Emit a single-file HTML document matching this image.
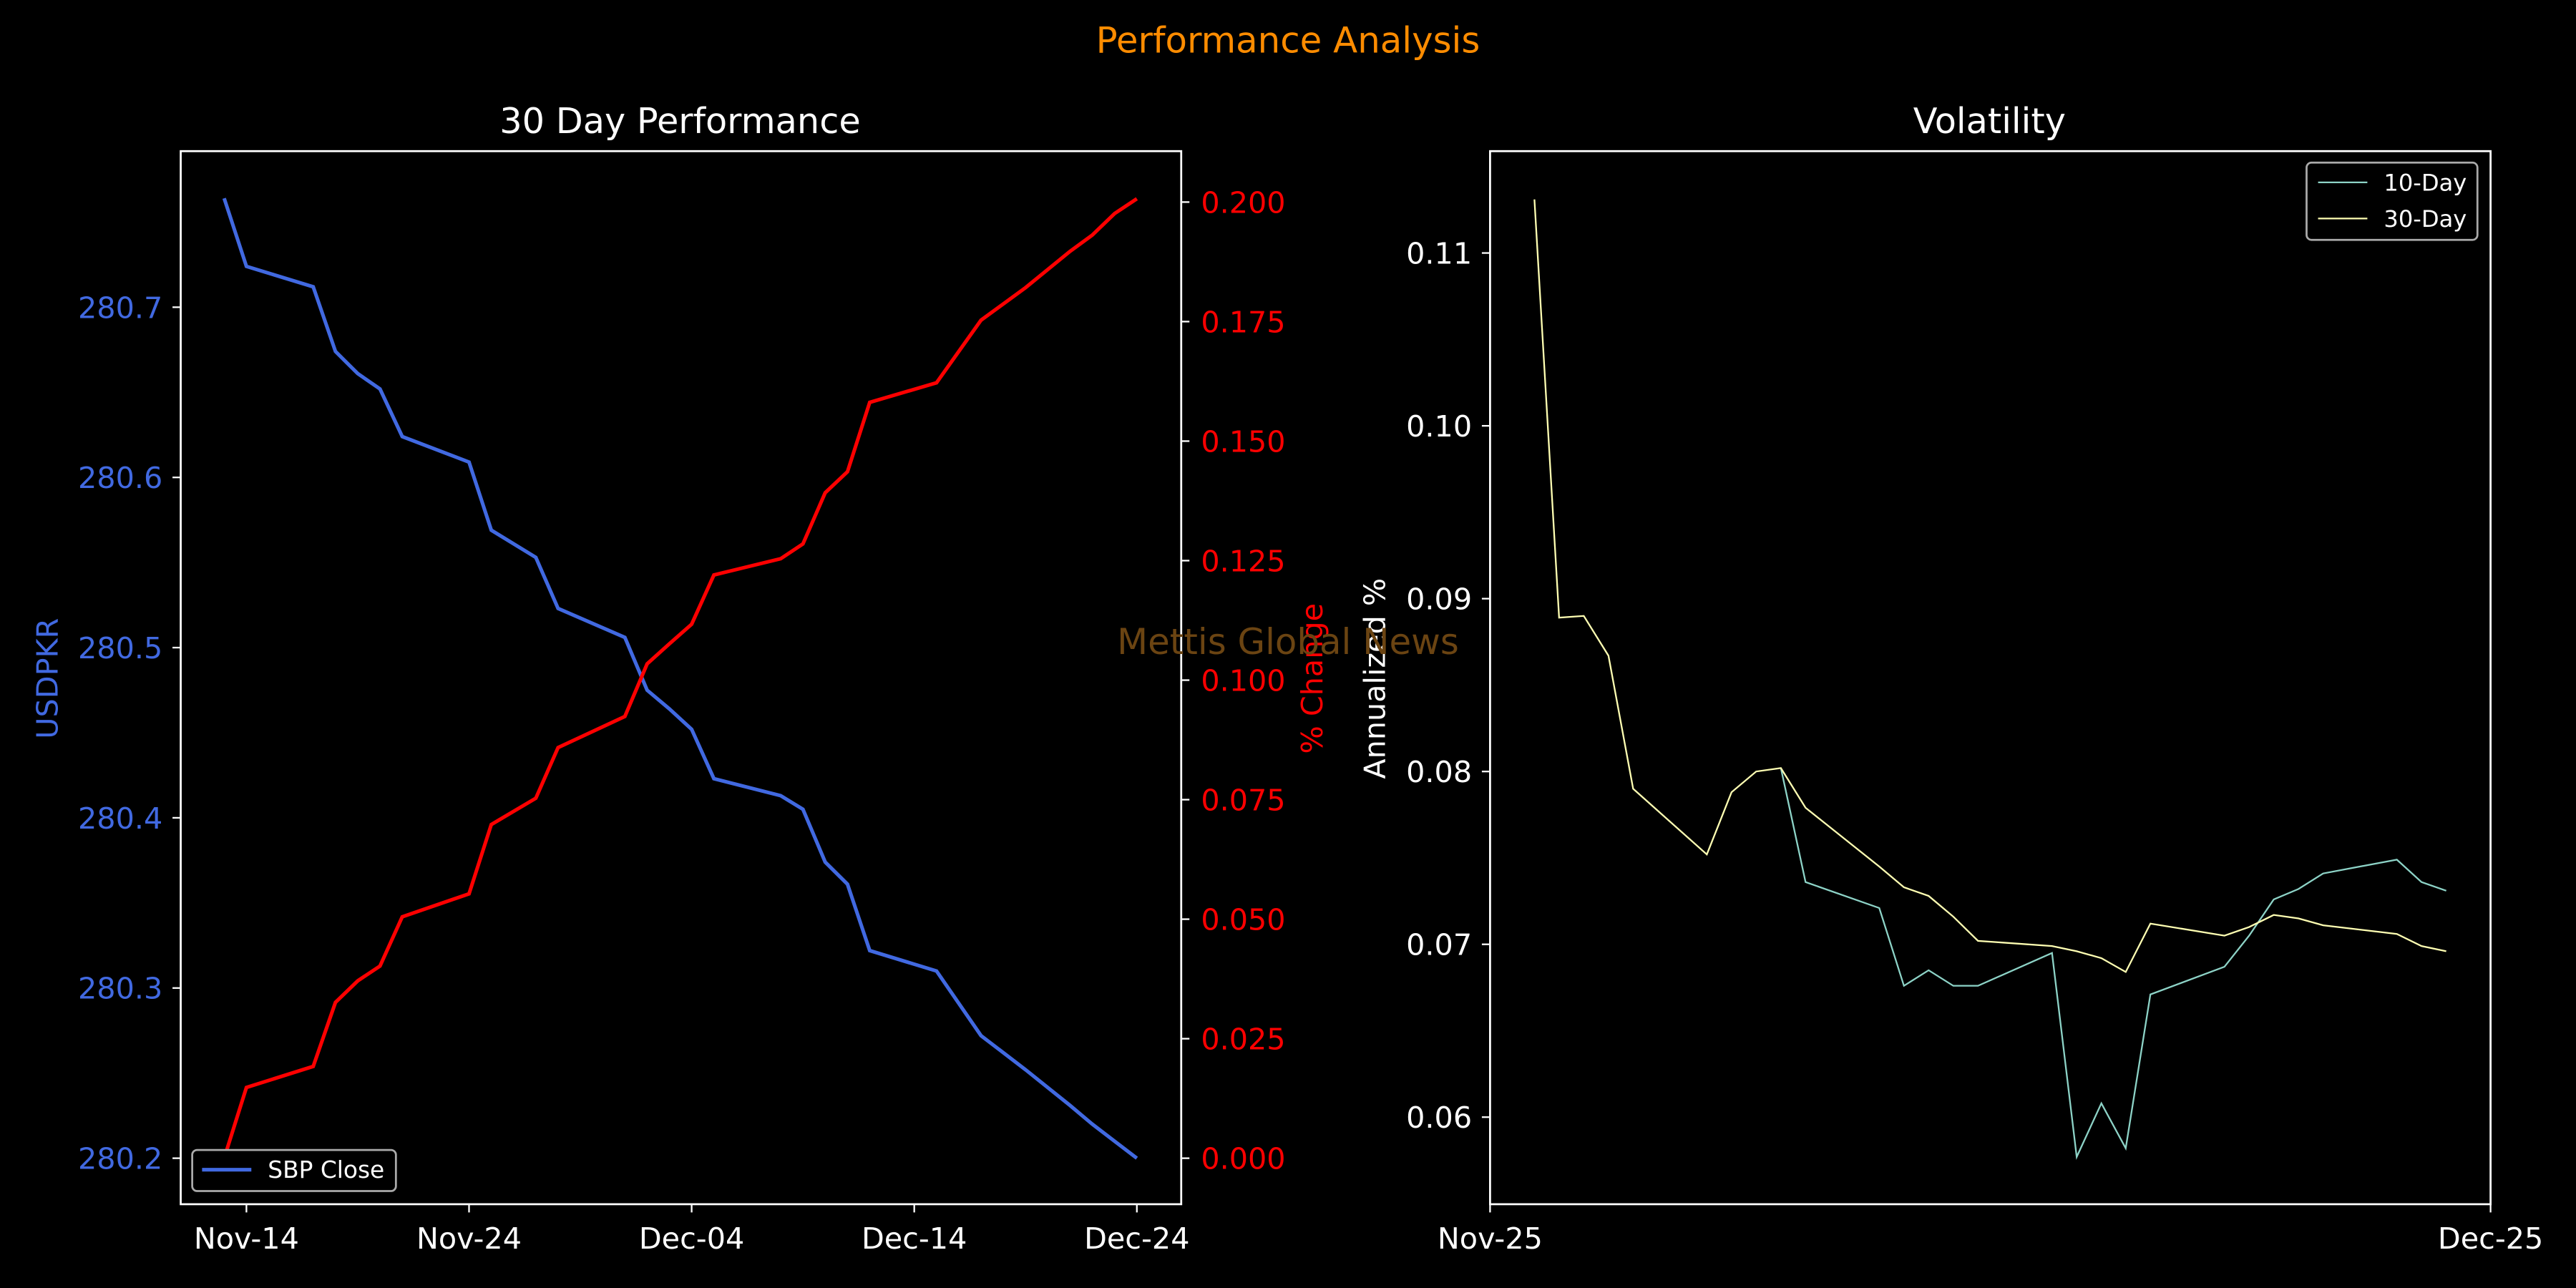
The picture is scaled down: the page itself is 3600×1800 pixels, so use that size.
<!DOCTYPE html>
<html><head><meta charset="utf-8"><style>
html,body{margin:0;padding:0;background:#000;}
svg{display:block;font-family:"DejaVu Sans","Liberation Sans",sans-serif;}
</style></head><body>
<svg id="chart" width="3600" height="1800" viewBox="0 0 1568 784" xmlns="http://www.w3.org/2000/svg">
<rect width="1568" height="784" fill="#000"/>
<text x="784" y="32" fill="#ff8c00" font-size="21.7" text-anchor="middle">Performance Analysis</text>
<text x="414" y="81" fill="#fff" font-size="21.5" text-anchor="middle">30 Day Performance</text>
<text x="1211" y="81" fill="#fff" font-size="21.5" text-anchor="middle">Volatility</text>
<g id="left"></g>
<g id="right"></g>
<text x="784" y="398" fill="#6b4412" font-size="21.7" text-anchor="middle">Mettis Global News</text>
</svg>
<script>
// ---- left chart data (day offset from Nov-14) ----
const closeDays = [-1,0,3,4,5,6,7,10,11,13,14,17,18,19,20,21,24,25,26,27,28,31,33,35,37,38,39,40];
const closeValues = [280.764,280.724,280.712,280.674,280.661,280.652,280.624,280.609,280.569,280.553,280.523,280.506,280.475,280.464,280.452,280.423,280.413,280.405,280.374,280.361,280.322,280.310,280.272,280.252,280.231,280.220,280.210,280.200];
const pctValues = [0,0.0148,0.0192,0.0326,0.0371,0.0402,0.0505,0.0553,0.0698,0.0753,0.0859,0.0924,0.1034,0.1076,0.1117,0.1220,0.1254,0.1285,0.1392,0.1436,0.1581,0.1622,0.1753,0.1821,0.1897,0.1931,0.1976,0.2007];
const leftXTickDays = [0,10,20,30,40];
const leftXTickLabels = ["Nov-14","Nov-24","Dec-04","Dec-14","Dec-24"];
const leftYTicks = [280.2,280.3,280.4,280.5,280.6,280.7];
const rightYTicks = [0,0.025,0.05,0.075,0.1,0.125,0.15,0.175,0.2];
// ---- right chart data (days from Nov-25) ----
const vol30Days = [1.33,2.07,2.81,3.55,4.29,6.5,7.24,7.98,8.72,9.46,11.67,12.41,13.15,13.89,14.63,16.85,17.59,18.33,19.06,19.8,22.02,22.76,23.5,24.24,24.98,27.19,27.93,28.67];
const vol30Values = [0.1131,0.0889,0.0890,0.0867,0.0790,0.0752,0.0788,0.0800,0.0802,0.0779,0.0745,0.0733,0.0728,0.0716,0.0702,0.0699,0.0696,0.0692,0.0684,0.0712,0.0705,0.0710,0.0717,0.0715,0.0711,0.0706,0.0699,0.0696];
const vol10Days = [8.72,9.46,11.67,12.41,13.15,13.89,14.63,16.85,17.59,18.33,19.06,19.8,22.02,22.76,23.5,24.24,24.98,27.19,27.93,28.67];
const vol10Values = [0.0802,0.0736,0.0721,0.0676,0.0685,0.0676,0.0676,0.0695,0.0577,0.0608,0.0582,0.0671,0.0687,0.0705,0.0726,0.0732,0.0741,0.0749,0.0736,0.0731];
const volYTicks = [0.06,0.07,0.08,0.09,0.10,0.11];
const volXTickDays = [0,30];
const volXTickLabels = ["Nov-25","Dec-25"];

const NS="http://www.w3.org/2000/svg";
function mk(parent,tag,attrs,text){const e=document.createElementNS(NS,tag);for(const k in attrs)e.setAttribute(k,attrs[k]);if(text!==undefined)e.textContent=text;parent.appendChild(e);return e;}
const TF=18;

const L=document.getElementById('left');
const lx=d=>150+(d)*13.55;
const ly=v=>705-(v-280.2)*1036;
const ry=v=>705-v*2910;
let e;
leftYTicks.forEach(v=>{
  e=mk(L,'line',{x1:105,x2:110,y1:ly(v),y2:ly(v),stroke:'#fff','stroke-width':1});
  
  e=mk(L,'text',{x:99,y:ly(v)+6.5,fill:'#4169e1','font-size':TF,'text-anchor':'end'},v.toFixed(1));
  
});
rightYTicks.forEach(v=>{
  e=mk(L,'line',{x1:719,x2:724,y1:ry(v),y2:ry(v),stroke:'#fff','stroke-width':1});
  
  e=mk(L,'text',{x:731,y:ry(v)+6.5,fill:'#ff0000','font-size':TF},v.toFixed(3));
  
});
leftXTickDays.forEach((d,i)=>{
  e=mk(L,'line',{x1:lx(d),x2:lx(d),y1:733,y2:738,stroke:'#fff','stroke-width':1});
  
  e=mk(L,'text',{x:lx(d),y:760,fill:'#fff','font-size':TF,'text-anchor':'middle'},leftXTickLabels[i]);
  
});
e=mk(L,'text',{x:0,y:0,fill:'#4169e1','font-size':TF,'text-anchor':'middle',transform:'translate(35,413) rotate(-90)'},'USDPKR');

e=mk(L,'text',{x:0,y:0,fill:'#ff0000','font-size':TF,'text-anchor':'middle',transform:'translate(805,413) rotate(-90)'},'% Change');

e=mk(L,'polyline',{points:closeDays.map((d,i)=>lx(d)+','+ly(closeValues[i])).join(' '),fill:'none',stroke:'#4169e1','stroke-width':2.2});

e=mk(L,'polyline',{points:closeDays.map((d,i)=>lx(d)+','+ry(pctValues[i])).join(' '),fill:'none',stroke:'#ff0000','stroke-width':2.2});

e=mk(L,'rect',{x:110,y:92,width:609,height:641,fill:'none',stroke:'#fff','stroke-width':1.2});

e=mk(L,'rect',{x:117,y:700,width:124,height:25,rx:3,fill:'#000',stroke:'#aaa','stroke-width':1.2});

e=mk(L,'line',{x1:123,x2:153,y1:712,y2:712,stroke:'#4169e1','stroke-width':2.2});

e=mk(L,'text',{x:163,y:717,fill:'#fff','font-size':14.3},'SBP Close');


const R=document.getElementById('right');
const vx=d=>907+d*20.3;
const vy=v=>680-(v-0.06)*10520;
volYTicks.forEach(v=>{
  e=mk(R,'line',{x1:902,x2:907,y1:vy(v),y2:vy(v),stroke:'#fff','stroke-width':1});
  
  e=mk(R,'text',{x:896,y:vy(v)+6.5,fill:'#fff','font-size':TF,'text-anchor':'end'},v.toFixed(2));
  
});
volXTickDays.forEach((d,i)=>{
  e=mk(R,'line',{x1:vx(d),x2:vx(d),y1:733,y2:738,stroke:'#fff','stroke-width':1});
  
  e=mk(R,'text',{x:vx(d),y:760,fill:'#fff','font-size':TF,'text-anchor':'middle'},volXTickLabels[i]);
  
});
e=mk(R,'text',{x:0,y:0,fill:'#fff','font-size':TF,'text-anchor':'middle',transform:'translate(843,413) rotate(-90)'},'Annualized %');

e=mk(R,'polyline',{points:vol10Days.map((d,i)=>vx(d)+','+vy(vol10Values[i])).join(' '),fill:'none',stroke:'#8dd3c7','stroke-width':1});

e=mk(R,'polyline',{points:vol30Days.map((d,i)=>vx(d)+','+vy(vol30Values[i])).join(' '),fill:'none',stroke:'#ffffb3','stroke-width':1});

e=mk(R,'rect',{x:907,y:92,width:609,height:641,fill:'none',stroke:'#fff','stroke-width':1.2});

e=mk(R,'rect',{x:1404,y:99,width:104,height:47,rx:3,fill:'#000',stroke:'#aaa','stroke-width':1.2});

e=mk(R,'line',{x1:1411,x2:1441,y1:111,y2:111,stroke:'#8dd3c7','stroke-width':1});

e=mk(R,'text',{x:1451,y:116,fill:'#fff','font-size':14},'10-Day');

e=mk(R,'line',{x1:1411,x2:1441,y1:133,y2:133,stroke:'#ffffb3','stroke-width':1});

e=mk(R,'text',{x:1451,y:138,fill:'#fff','font-size':14},'30-Day');

</script>
</body></html>
